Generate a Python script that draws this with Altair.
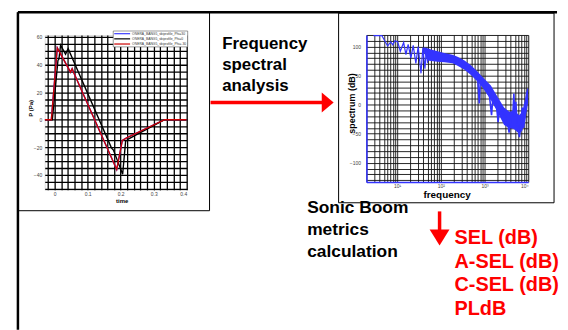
import altair as alt
import pandas as pd

# ---------------- data ----------------
# pressure signatures (time s, pressure Pa)
t_blue = [-0.03, -0.01, 0.008, 0.048, 0.053, 0.058, 0.188, 0.205, 0.218, 0.333, 0.4]
p_blue = [0, 0, 52, 34.5, 37, 34, -36, -15, -13.2, 0, 0]
t_black = [-0.03, -0.007, 0.01, 0.013, 0.018, 0.033, 0.041, 0.172, 0.178, 0.206, 0.215, 0.223, 0.333, 0.4]
p_black = [0, 0, 43, 44, 54, 47.5, 51.5, -20.4, -22, -39.5, -15.6, -14, 0, 0]
t_red = [-0.03, -0.01, 0.008, 0.048, 0.053, 0.058, 0.188, 0.205, 0.218, 0.333, 0.4]
p_red = [0, 0, 52, 34.5, 37, 34, -36, -15, -13.2, 0, 0]
series_names = ["ONERA_BANG5_sbiprofile_Phi=30", "ONERA_BANG5_sbiprofile_Phi=0", "ONERA_BANG5_sbiprofile_Phi=-30"]
series_colors = ["#3b3bff", "#000000", "#cc0000"]

time_grid = [-0.02, 0.0, 0.02, 0.04, 0.06, 0.08, 0.1, 0.12, 0.14, 0.16, 0.18, 0.2,
             0.22, 0.24, 0.26, 0.28, 0.3, 0.32, 0.34, 0.36, 0.38, 0.4]
time_labels = [0.0, 0.1, 0.2, 0.3, 0.4]
p_grid = [-50, -45, -40, -35, -30, -25, -20, -15, -10, -5, 0, 5, 10, 15, 20, 25,
          30, 35, 40, 45, 50, 55, 60]

# spectrum (frequency Hz, dB)
spec_f = [2.9, 4.5, 6.1, 7.2, 8.0, 9.0, 10.4, 11.9, 14.2, 16.0, 18.0, 20.8, 23.5,
          27.0, 30.5, 35.4, 39.0, 43.5, 47.0, 50.0]
spec_db = [119, 119, 101, 108, 103, 110, 108, 92, 107, 86, 104, 80, 102, 71, 100,
           54, 98, 62, 96, 72]
band_f = [40, 50, 60, 85, 120, 186, 242, 350, 490, 690, 850, 1000, 1400, 2000,
          2800, 3700, 4700, 6200, 7300, 8800, 10000]
band_hi = [99, 97, 95, 92, 89, 86, 82.5, 76, 68, 57, 50, 44, 33, 13, -5, -12, -10,
           -18, -12, 15, 28]
band_lo = [92, 76, 75, 74, 73, 71.5, 67, 60, 51, 40, 32, 25, 8, -13, -35, -40, -42,
           -50, -45, -20, 5]
spike_f = [700, 760, 800, 1300, 1450, 1550, 1900, 2050, 2200, 3300, 3650, 3900, 4500,
           4700, 4900, 5200, 5600, 6000, 6300, 6800, 7300, 7800, 8500, 9200, 10000]
spike_db = [45, 2, 40, 15, -18, 10, -5, -30, -5, -25, -48, -30, -10, 19, -20, 5, -35,
            -45, -56, -30, -5, -40, -20, 20, 28]
freq_grid = [2, 3, 4, 5, 6, 7, 8, 9, 10, 20, 30, 40, 50, 60, 70, 80, 90, 100, 200, 300,
             400, 500, 600, 700, 800, 900, 1000, 2000, 3000, 4000, 5000, 6000, 7000,
             8000, 9000, 10000]
db_grid = [-130, -120, -110, -100, -90, -80, -70, -60, -50, -40, -30, -20, -10, 0, 10,
           20, 30, 40, 50, 60, 70, 80, 90, 100, 110, 120]

title_lines = ["Frequency", "spectral", "analysis"]
metric_title = ["Sonic Boom", "metrics", "calculation"]
metric_lines = ["SEL (dB)", "A-SEL (dB)", "C-SEL (dB)", "PLdB"]

FONT = "Liberation Sans"
RED = "#ff0000"
SPEC_BLUE = "#3333ff"

# ---------------- left panel ----------------
dummy = alt.Chart(pd.DataFrame({"k": [0]}))

xs = alt.Scale(domain=[-0.03, 0.4], nice=False, zero=False)
ys = alt.Scale(domain=[-50.8, 61.4], nice=False, zero=False)
x_ax = alt.Axis(values=time_grid, title=None, grid=True, gridColor="black", gridWidth=1.3,
                gridOpacity=1, domain=False, ticks=False, tickSize=0, labelFont=FONT,
                labelFontSize=5, labelColor="#444", labelPadding=2, labelOverlap=False,
                labelExpr="indexof(%s, datum.value) >= 0 ? format(datum.value, '~g') : ''"
                % str(time_labels))
y_ax = alt.Axis(values=p_grid, title=None, grid=True, gridColor="black", gridWidth=1.3,
                gridOpacity=1, domain=False, ticks=False, tickSize=0, labelFont=FONT,
                labelFontSize=5, labelColor="#444", labelPadding=3, labelOverlap=False,
                labelExpr="datum.value % 20 == 0 ? format(datum.value, 'd') : ''")


def wave_layer(ts, ps, color):
    df = pd.DataFrame({"t": ts, "p": ps})
    return alt.Chart(df).mark_line(color=color, strokeWidth=1.4, clip=True).encode(
        x=alt.X("t:Q", scale=xs, axis=x_ax),
        y=alt.Y("p:Q", scale=ys, axis=y_ax),
    )


left_layers = []
# invisible rect that fixes the page bounds
left_layers.append(dummy.mark_rect(opacity=0).encode(
    x=alt.value(-36), x2=alt.value(516), y=alt.value(-25), y2=alt.value(297)))
left_layers.append(wave_layer(t_blue, p_blue, series_colors[0]))
left_layers.append(wave_layer(t_black, p_black, series_colors[1]))
left_layers.append(wave_layer(t_red, p_red, series_colors[2]))

# frame lines of the slide
left_layers.append(dummy.mark_rule(color="black", strokeWidth=2.5).encode(
    x=alt.value(-27), x2=alt.value(516), y=alt.value(-23)))
left_layers.append(dummy.mark_rule(color="black", strokeWidth=2.5).encode(
    x=alt.value(-27), y=alt.value(-23), y2=alt.value(297)))
# picture boxes
left_layers.append(dummy.mark_rect(filled=False, stroke="black", strokeWidth=1).encode(
    x=alt.value(-27), x2=alt.value(166), y=alt.value(-23), y2=alt.value(177)))
left_layers.append(dummy.mark_rect(filled=False, stroke="black", strokeWidth=1).encode(
    x=alt.value(296), x2=alt.value(513), y=alt.value(-22), y2=alt.value(169)))

# legend box
left_layers.append(dummy.mark_rect(fill="white", stroke="#555", strokeWidth=0.6).encode(
    x=alt.value(69), x2=alt.value(144), y=alt.value(-4), y2=alt.value(12)))
for i, (nm, col) in enumerate(zip(series_names, series_colors)):
    yy = -1.3 + i * 5.2
    left_layers.append(dummy.mark_rule(color=col, strokeWidth=1.2).encode(
        x=alt.value(70), x2=alt.value(86), y=alt.value(yy)))
    left_layers.append(dummy.mark_text(text=nm, font=FONT, fontSize=3.4, color="#333",
                                       align="left", baseline="middle").encode(
        x=alt.value(88), y=alt.value(yy)))

# axis titles of left panel
left_layers.append(dummy.mark_text(text="P (Pa)", font=FONT, fontSize=6, fontWeight="bold",
                                   angle=270, align="center", baseline="middle").encode(
    x=alt.value(-14), y=alt.value(74)))
left_layers.append(dummy.mark_text(text="time", font=FONT, fontSize=6, fontWeight="bold",
                                   align="center", baseline="middle").encode(
    x=alt.value(78), y=alt.value(167)))

# red horizontal arrow
left_layers.append(dummy.mark_rule(color=RED, strokeWidth=3.5).encode(
    x=alt.value(167), x2=alt.value(286), y=alt.value(68)))
left_layers.append(dummy.mark_point(shape="M -0.6 -1 L 0.6 0 L -0.6 1 Z", filled=True,
                                    size=400, color=RED, opacity=1, strokeWidth=0).encode(
    x=alt.value(285), y=alt.value(68)))
# red down arrow
left_layers.append(dummy.mark_rule(color=RED, strokeWidth=3.5).encode(
    x=alt.value(397.7), y=alt.value(177.7), y2=alt.value(206)))
left_layers.append(dummy.mark_point(shape="M -1 -0.8 L 1 -0.8 L 0 0.8 Z", filled=True,
                                    size=400, color=RED, opacity=1, strokeWidth=0).encode(
    x=alt.value(397.7), y=alt.value(204)))

# texts
left_layers.append(dummy.mark_text(text=title_lines, font=FONT, fontSize=17, fontWeight="bold",
                                   lineHeight=21.5, align="left", baseline="alphabetic",
                                   color="black").encode(x=alt.value(178.7), y=alt.value(13.7)))
left_layers.append(dummy.mark_text(text=metric_title, font=FONT, fontSize=17.5, fontWeight="bold",
                                   lineHeight=22, align="left", baseline="alphabetic",
                                   color="black").encode(x=alt.value(264.3), y=alt.value(179.7)))
left_layers.append(dummy.mark_text(text=metric_lines, font=FONT, fontSize=20, fontWeight="bold",
                                   lineHeight=24, align="left", baseline="alphabetic",
                                   color=RED).encode(x=alt.value(412.7), y=alt.value(210.3)))

left = alt.layer(*left_layers).properties(width=143, height=156)

# ---------------- right panel ----------------
fs = alt.Scale(type="log", domain=[2, 10000], nice=False)
ds = alt.Scale(domain=[-133, 120], nice=False, zero=False)
f_ax = alt.Axis(values=freq_grid, title=None, grid=True, gridColor="#111", gridWidth=1,
                gridOpacity=0.9, domain=True, domainColor=SPEC_BLUE, domainWidth=1.5,
                ticks=False, tickSize=0, labelFont=FONT, labelFontSize=5, labelColor="#444",
                labelPadding=2, labelOverlap=False, labelBound=False,
                labelExpr="datum.value == 10 ? '10¹' : datum.value == 100 ? '10²' : "
                          "datum.value == 1000 ? '10³' : datum.value == 10000 ? '10⁴' : ''")
d_ax = alt.Axis(values=db_grid, title=None, grid=True, gridColor="#111", gridWidth=1,
                gridOpacity=0.9, domain=True, domainColor=SPEC_BLUE, domainWidth=1.5,
                ticks=False, tickSize=0, labelFont=FONT, labelFontSize=5, labelColor="#444",
                labelPadding=6, labelOverlap=False,
                labelExpr="datum.value % 50 == 0 ? format(datum.value, 'd') : ''")

band_df = pd.DataFrame({"f": band_f, "db": band_hi, "db2": band_lo})
spec_df = pd.DataFrame({"f": spec_f, "db": spec_db})
spike_df = pd.DataFrame({"f": spike_f, "db": spike_db})

band = alt.Chart(band_df).mark_area(color=SPEC_BLUE, opacity=1, clip=True).encode(
    x=alt.X("f:Q", scale=fs, axis=f_ax),
    y=alt.Y("db:Q", scale=ds, axis=d_ax),
    y2="db2:Q",
)
spec_line = alt.Chart(spec_df).mark_line(color=SPEC_BLUE, strokeWidth=1.2, clip=True).encode(
    x=alt.X("f:Q", scale=fs, axis=f_ax),
    y=alt.Y("db:Q", scale=ds, axis=d_ax),
)
spike_line = alt.Chart(spike_df).mark_line(color=SPEC_BLUE, strokeWidth=1.6, clip=True).encode(
    x=alt.X("f:Q", scale=fs, axis=f_ax),
    y=alt.Y("db:Q", scale=ds, axis=d_ax),
)
rdummy = alt.Chart(pd.DataFrame({"k": [0]}))
r_title_y = rdummy.mark_text(text="spectrum (dB)", font=FONT, fontSize=9, fontWeight="bold",
                             angle=270, align="center", baseline="middle").encode(
    x=alt.value(-14), y=alt.value(69))
r_title_x = rdummy.mark_text(text="frequency", font=FONT, fontSize=10, fontWeight="bold",
                             align="center", baseline="middle").encode(
    x=alt.value(81.3), y=alt.value(161))

right = alt.layer(band, spec_line, spike_line, r_title_y, r_title_x).properties(
    width=163, height=148)

chart = alt.hconcat(left, right, spacing=181, bounds="flush").properties(
    padding=0
).configure_view(stroke="black", strokeWidth=1.5).configure(background="white")

chart.save("out.html", embed_options={"renderer": "svg", "actions": False})
